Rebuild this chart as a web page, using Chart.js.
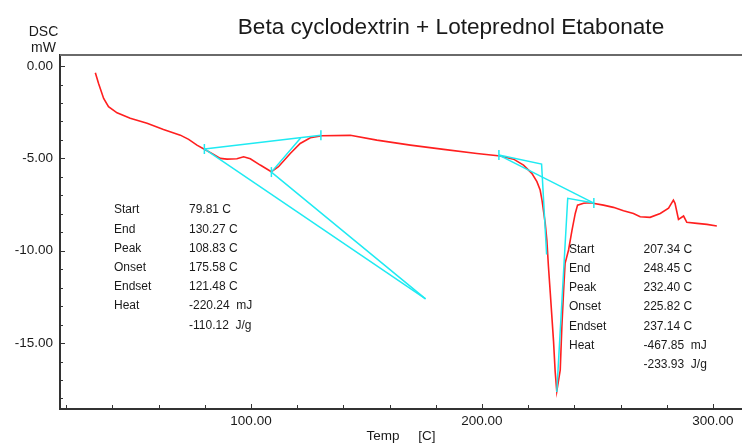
<!DOCTYPE html>
<html>
<head>
<meta charset="utf-8">
<title>DSC - Beta cyclodextrin + Loteprednol Etabonate</title>
<script src="https://cdn.jsdelivr.net/npm/chart.js@4.4.0/dist/chart.umd.min.js"></script>
<style>
  html, body { margin: 0; padding: 0; background: #fff; }
  canvas { display: block; }
</style>
</head>
<body>
<canvas id="dscChart" width="742" height="443"></canvas>
<script>
// DSC trace: temperature [C] and heat flow [mW]
const temps = [
  32.6, 34.0, 36.2, 38.3, 42.0, 47.7, 55.0, 62.1, 69.4, 73.0,
  76.6, 79.8, 83.8, 86.7, 89.6, 93.9, 96.8, 99.7, 104.0, 108.8,
  111.9, 117.0, 121.3, 125.7, 130.7, 143.0, 154.5, 169.0, 183.4, 197.8,
  207.9, 213.7, 218.0, 221.6, 223.8, 225.2, 226.0, 227.4, 228.1, 228.8,
  229.6, 231.0, 231.7, 232.4, 233.9, 234.6, 235.3, 236.0, 237.5, 239.0,
  240.4, 241.4, 244.0, 246.9, 252.6, 256.9, 261.3, 265.6, 268.5, 272.8,
  277.2, 280.8, 282.9, 283.6, 285.1, 287.3, 288.7, 293.1, 297.4, 301.7
];
const dsc = [
  -0.36, -0.94, -1.75, -2.20, -2.53, -2.83, -3.10, -3.43, -3.74, -3.97,
  -4.28, -4.50, -4.78, -5.00, -5.04, -5.02, -4.91, -5.02, -5.36, -5.72,
  -5.45, -4.73, -4.19, -3.88, -3.77, -3.75, -4.01, -4.28, -4.51, -4.73,
  -4.87, -5.04, -5.36, -5.81, -6.26, -6.71, -7.26, -8.52, -9.42, -10.87,
  -12.31, -14.91, -16.54, -17.62, -16.46, -14.11, -12.31, -10.68, -9.96, -8.88,
  -7.98, -7.53, -7.43, -7.40, -7.53, -7.65, -7.83, -7.98, -8.16, -8.19,
  -7.98, -7.70, -7.26, -7.43, -8.30, -8.12, -8.46, -8.52, -8.57, -8.66
];

// peak analysis results: Start, End, Peak, Onset, Endset
const eventNames = ['Start', 'End', 'Peak', 'Onset', 'Endset', 'Heat'];
const event1Temps = [79.81, 130.27, 108.83, 175.58, 121.48];
const event1Heat = [-220.24, -110.12];   // mJ, J/g
const event2Temps = [207.34, 248.45, 232.40, 225.82, 237.14];
const event2Heat = [-467.85, -233.93];
// heat flow where the construction lines pass those temperatures
const event1LineY = [-4.49, -3.74, -5.74, -12.61, -3.90];
const event2LineY = [-4.82, -7.42, -17.65, -5.31, -7.16];
const event2OnsetTangentEnd = [228.0, -10.2];

// axis range and ticks
const xMin = 17.3, xMax = 312.6;
const yMin = -18.57, yMax = 0.6;
const xTicks = [20, 40, 60, 80, 100, 120, 140, 160, 180, 200, 220, 240, 260, 280, 300];
const yTicks = [-18, -17, -16, -15, -14, -13, -12, -11, -10, -9, -8, -7, -6, -5, -4, -3, -2, -1, 0];

const FONT = '"Liberation Sans", Arial, Helvetica, sans-serif';
const RED = '#ff1f1f';
const CYAN = '#1feaf2';
const TEXT = '#1a1a1a';

const pt = (x, y) => ({ x, y });

// construction lines of the first peak
const [s1, e1, p1, o1, es1] = event1Temps.map((t, i) => pt(t, event1LineY[i]));
// construction lines of the second peak
const [s2, e2, p2, o2, es2] = event2Temps.map((t, i) => pt(t, event2LineY[i]));

const cyanLine = (data) => ({
  data,
  showLine: true,
  borderColor: CYAN,
  borderWidth: 1.5,
  pointRadius: 0,
  tension: 0,
  order: 1
});

const datasets = [
  cyanLine([s1, e1]),
  cyanLine([s1, o1]),
  cyanLine([es1, p1, o1]),
  cyanLine([s2, e2]),
  cyanLine([s2, o2, pt(event2OnsetTangentEnd[0], event2OnsetTangentEnd[1])]),
  cyanLine([e2, es2, p2]),
  {
    // little vertical markers at start / end / peak
    data: [s1, e1, p1, s2, e2],
    showLine: false,
    pointStyle: 'line',
    rotation: 90,
    pointRadius: 5,
    borderColor: CYAN,
    borderWidth: 1.5,
    order: 1
  },
  {
    data: temps.map((t, i) => pt(t, dsc[i])),
    showLine: true,
    borderColor: RED,
    borderWidth: 1.6,
    pointRadius: 0,
    tension: 0,
    order: 2
  }
];

function drawTable(ctx, names, temps, heat, xLabel, xValue, y0, step) {
  ctx.textAlign = 'left';
  ctx.textBaseline = 'middle';
  names.forEach((name, i) => {
    const y = y0 + i * step;
    ctx.fillText(name, xLabel, y);
    const txt = i < temps.length ? temps[i].toFixed(2) + ' C' : heat[0].toFixed(2) + '  mJ';
    ctx.fillText(txt, xValue, y);
  });
  ctx.fillText(heat[1].toFixed(2) + '  J/g', xValue, y0 + names.length * step);
}

const dscDecor = {
  id: 'dscDecor',
  afterDraw(chart) {
    const ctx = chart.ctx;
    const a = chart.chartArea;
    const xs = chart.scales.x;
    const ys = chart.scales.y;
    ctx.save();

    // top frame line
    ctx.strokeStyle = '#6a6a6a';
    ctx.lineWidth = 2;
    ctx.beginPath();
    ctx.moveTo(a.left, a.top);
    ctx.lineTo(chart.width, a.top);
    ctx.stroke();

    // tick marks pointing into the plot
    ctx.strokeStyle = '#333';
    ctx.lineWidth = 1;
    ctx.beginPath();
    xs.ticks.forEach(t => {
      const px = Math.round(xs.getPixelForValue(t.value)) + 0.5;
      const len = t.value % 100 === 0 ? 5 : 4;
      ctx.moveTo(px, a.bottom);
      ctx.lineTo(px, a.bottom - len);
    });
    ys.ticks.forEach(t => {
      const py = Math.round(ys.getPixelForValue(t.value)) + 0.5;
      const len = t.value % 5 === 0 ? 5 : 3;
      ctx.moveTo(a.left, py);
      ctx.lineTo(a.left + len, py);
    });
    ctx.stroke();

    ctx.fillStyle = TEXT;

    // chart title
    ctx.font = '22.6px ' + FONT;
    ctx.textAlign = 'center';
    ctx.textBaseline = 'alphabetic';
    ctx.fillText('Beta cyclodextrin + Loteprednol Etabonate', 451, 33.5);

    // y axis name and unit
    ctx.font = '14px ' + FONT;
    ctx.textBaseline = 'middle';
    ctx.fillText('DSC', 43.5, 32);
    ctx.fillText('mW', 43.5, 48.5);

    // result tables
    ctx.font = '12px ' + FONT;
    drawTable(ctx, eventNames, event1Temps, event1Heat, 114, 189, 210, 19.2);
    drawTable(ctx, eventNames, event2Temps, event2Heat, 569, 643.5, 249.5, 19.2);

    ctx.restore();
  }
};

new Chart(document.getElementById('dscChart'), {
  type: 'scatter',
  data: { datasets },
  options: {
    responsive: false,
    animation: false,
    devicePixelRatio: 1,
    layout: {
      autoPadding: false,
      padding: { top: 55, left: 0, right: 0, bottom: 0 }
    },
    plugins: {
      legend: { display: false },
      tooltip: { enabled: false }
    },
    scales: {
      x: {
        type: 'linear',
        min: xMin,
        max: xMax,
        afterFit: (s) => {
          s.height = 34;
          s.paddingLeft = 0;
          s.paddingRight = 0;
        },
        afterBuildTicks: (s) => { s.ticks = xTicks.map(v => ({ value: v })); },
        grid: { display: false, drawTicks: false },
        border: { display: true, color: '#333', width: 2 },
        ticks: {
          callback: (v) => (v % 100 === 0 ? v.toFixed(2) : ''),
          font: { family: FONT, size: 13.5 },
          color: TEXT,
          padding: 4,
          maxRotation: 0,
          autoSkip: false
        },
        title: {
          display: true,
          text: 'Temp     [C]',
          font: { family: FONT, size: 13.5, lineHeight: 1 },
          color: TEXT,
          padding: 0
        }
      },
      y: {
        type: 'linear',
        min: yMin,
        max: yMax,
        afterFit: (s) => {
          s.width = 60;
          s.paddingTop = 0;
          s.paddingBottom = 0;
        },
        afterBuildTicks: (s) => { s.ticks = yTicks.map(v => ({ value: v })); },
        grid: { display: false, drawTicks: false },
        border: { display: true, color: '#333', width: 2 },
        ticks: {
          callback: (v) => (v % 5 === 0 ? v.toFixed(2) : ''),
          font: { family: FONT, size: 13.5 },
          color: TEXT,
          padding: 7,
          autoSkip: false
        }
      }
    }
  },
  plugins: [dscDecor]
});
</script>
</body>
</html>
